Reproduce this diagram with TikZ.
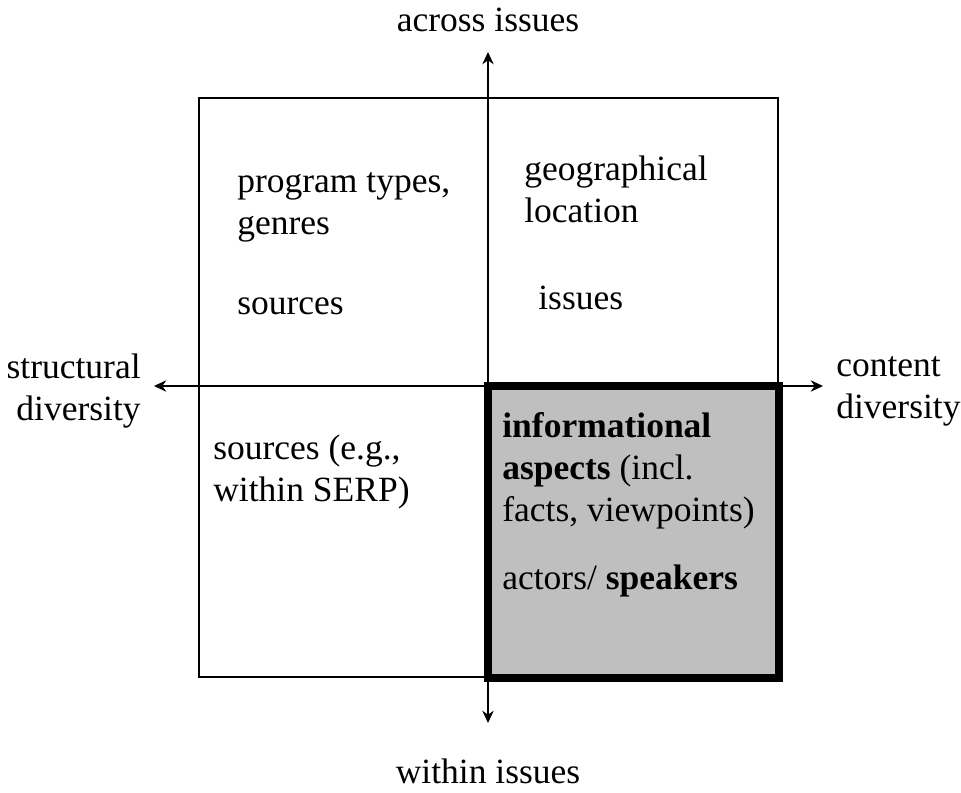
\documentclass[tikz,border=0pt]{standalone}
\usepackage{fontspec}
\setmainfont{Liberation Serif}
\usetikzlibrary{arrows.meta}
\begin{document}
\begin{tikzpicture}[x=0.02cm, y=-0.02cm, >={Stealth[length=7pt,width=6.5pt]},
    lbl/.style={inner sep=0pt, align=left, anchor=west, font=\fontsize{20.2}{24}\selectfont}]
    \useasboundingbox (0,0) rectangle (961,792);

    % Quadrants
    \fill[gray!50] (488,386) rectangle (779,678);
    \draw[line width=0.8pt] (199,98) rectangle (778,677);
    \draw[line width=4.2pt] (488,386) rectangle (779,678);

    % Axes
    \coordinate (top) at (488,52);
    \coordinate (bottom) at (488,723);
    \coordinate (left) at (154,386);
    \coordinate (right) at (823,386);
    \draw[<->, line width=0.7pt] (top) -- (bottom);
    \draw[<->, line width=0.7pt] (left) -- (right);

    % Axis labels
    \node[lbl, anchor=center] (across) at (488,20) {across issues};
    \node[lbl, anchor=center] (within) at (488,771) {within issues};
    \node[lbl, anchor=east, align=right] (structural) at (141,391) {structural\\diversity};
    \node[lbl] (content) at (836,391) {content\\diversity};

    % Quadrant texts
    \node[lbl] (genres) at (237,207) {program types,\\genres};
    \node[lbl] (sources) at (237,306) {sources};
    \node[lbl] (location) at (524,189) {geographical\\location};
    \node[lbl] (issues) at (538,298) {issues};
    \node[lbl] (serp) at (213,472) {sources (e.g.,\\within SERP)};
    \node[lbl] (aspects) at (502,471) {\textbf{informational}\\\textbf{aspects} (incl.\\facts, viewpoints)};
    \node[lbl] (speakers) at (502,581) {actors/ \textbf{speakers}};
\end{tikzpicture}
\end{document}
